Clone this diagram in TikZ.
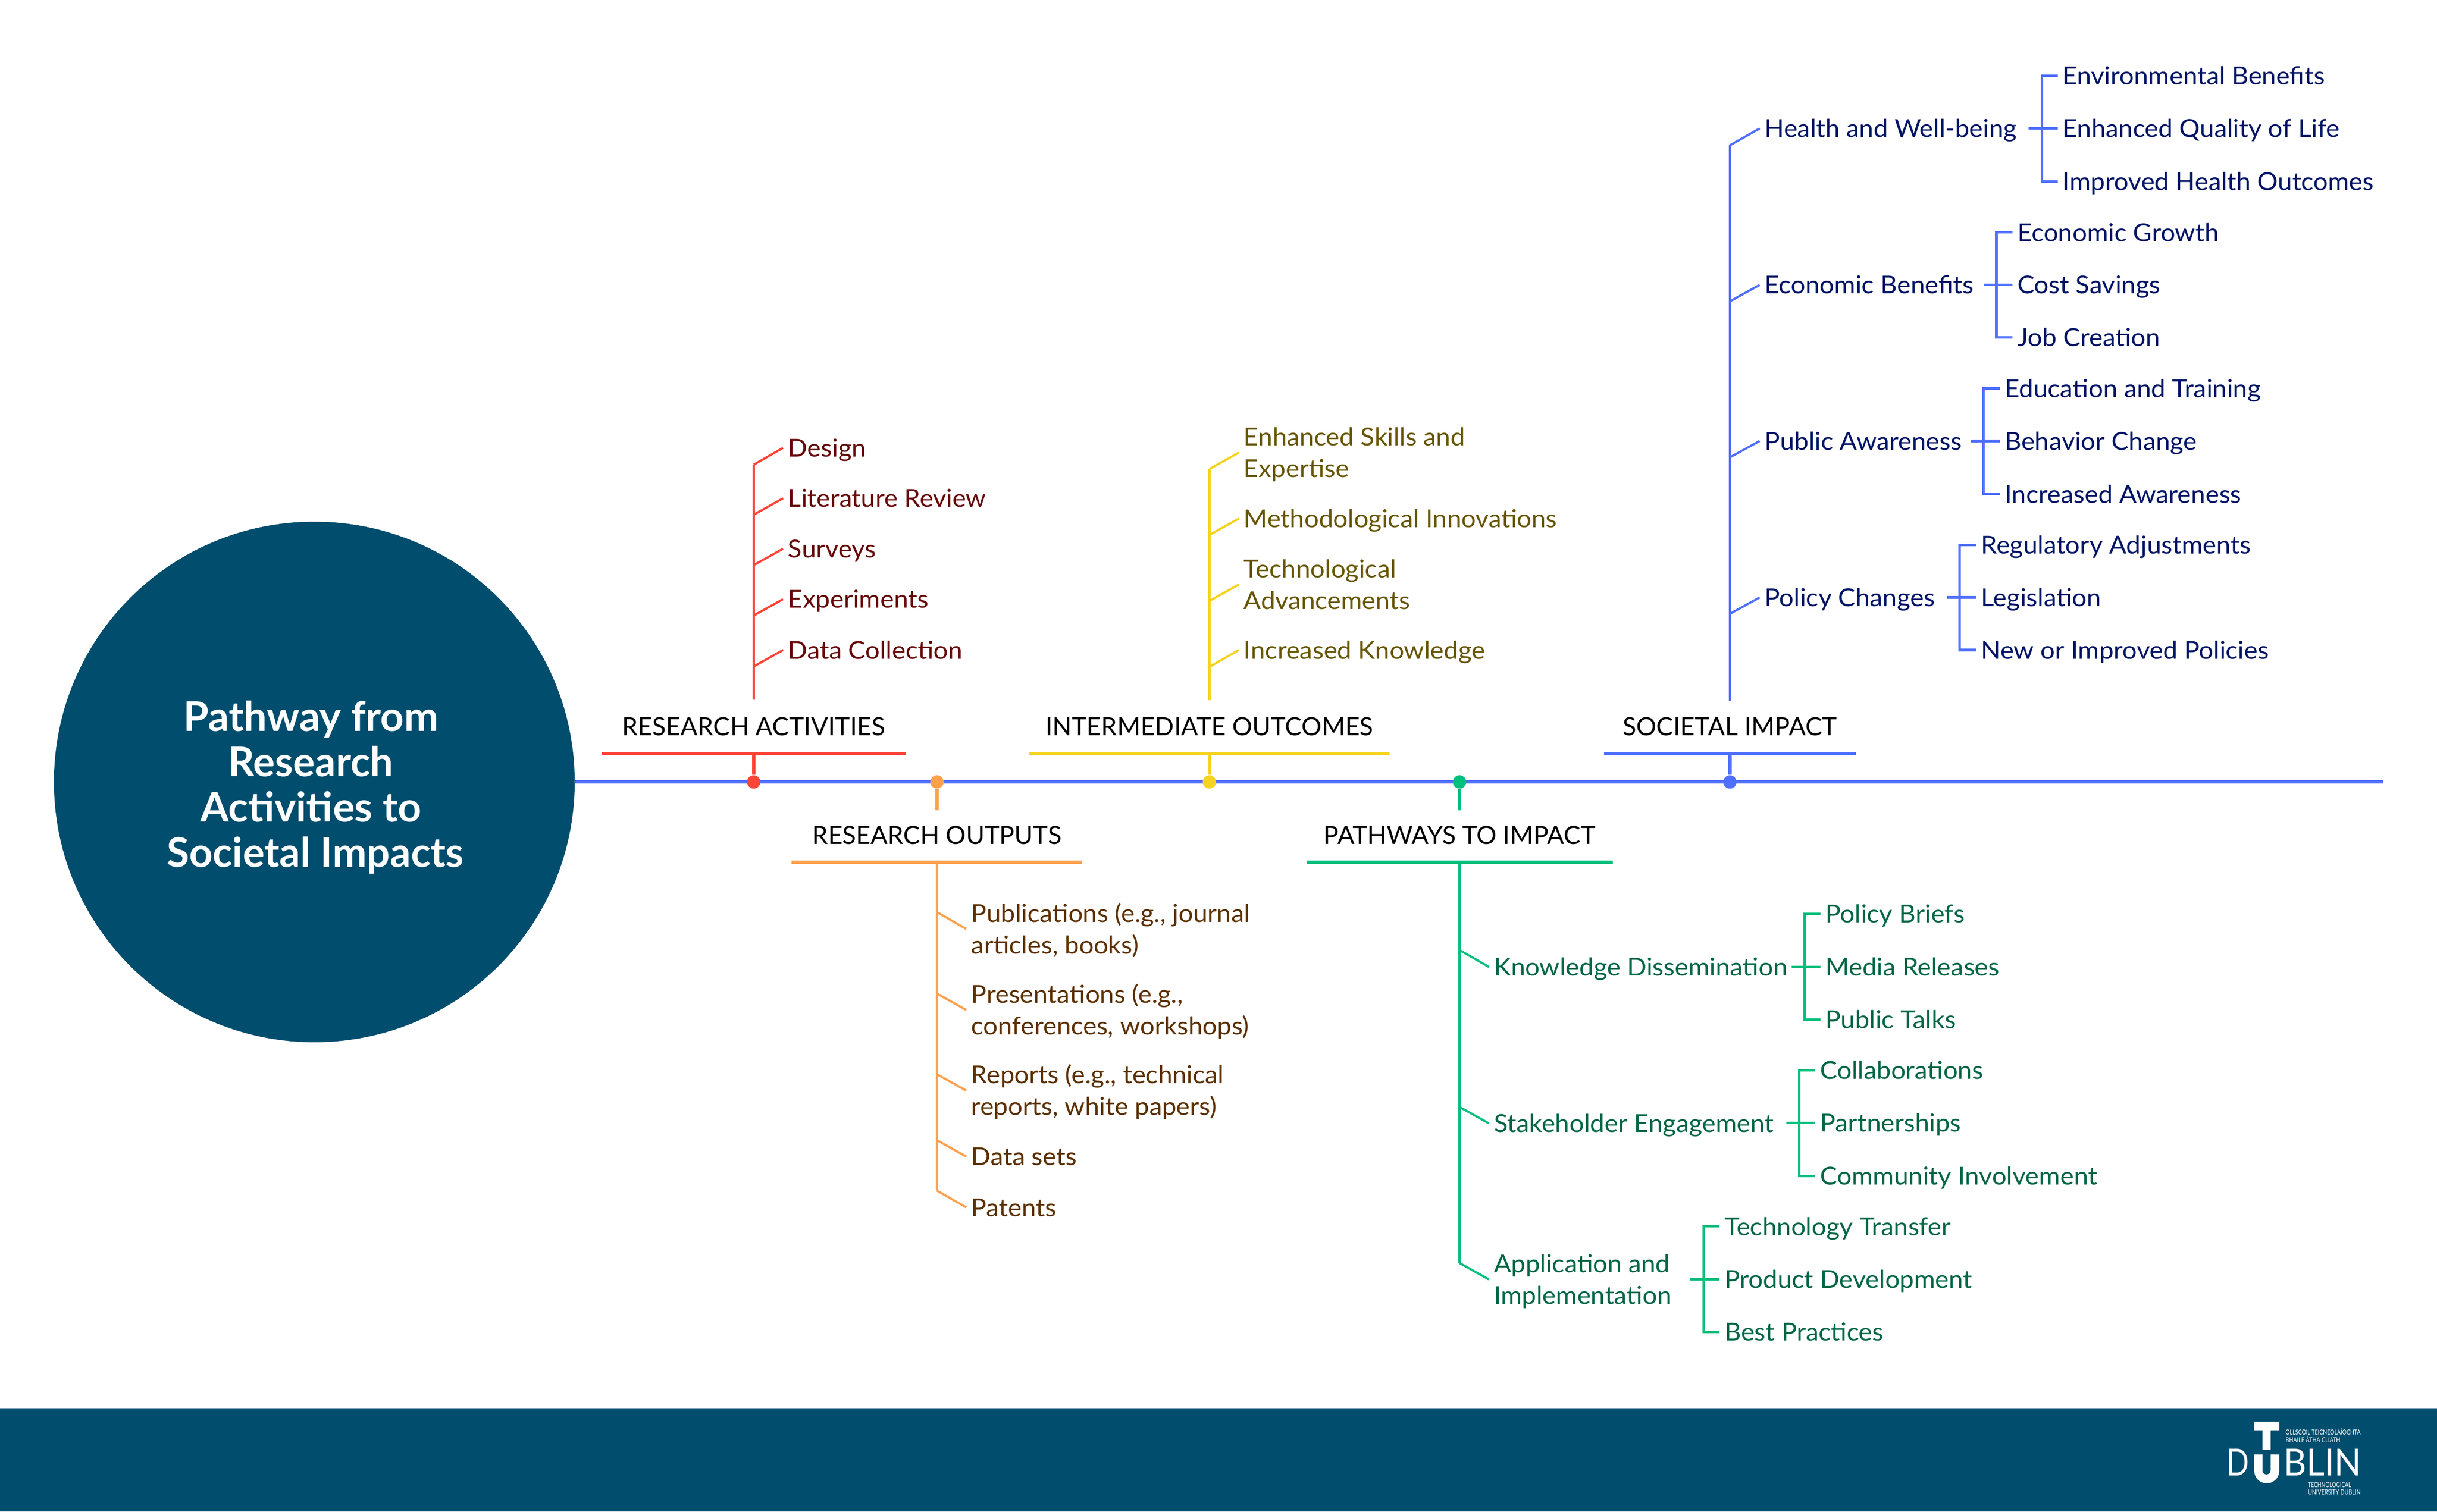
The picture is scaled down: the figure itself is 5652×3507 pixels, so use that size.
\documentclass[tikz,border=0pt]{standalone}
\usepackage{fontspec}
\usepackage{graphicx}
\setmainfont{Lato}
\newfontfamily\leaffont[FakeStretch=1.04]{Lato}
\definecolor{band}{HTML}{004D6D}
\definecolor{spine}{HTML}{4F6FFF}
\definecolor{cR}{HTML}{FF4438}\definecolor{tR}{HTML}{660808}
\definecolor{cO}{HTML}{FFA04D}\definecolor{tO}{HTML}{5C3000}
\definecolor{cY}{HTML}{F5D320}\definecolor{tY}{HTML}{665500}
\definecolor{cG}{HTML}{00BF7D}\definecolor{tG}{HTML}{006644}
\definecolor{cB}{HTML}{4F6FFF}\definecolor{tB}{HTML}{001466}
\newcommand\st{\vrule width 0pt height 15.82pt depth 4.1pt\relax}
\tikzset{
  thinline/.style={line width=0.05cm},
  medline/.style={line width=0.06cm},
  thickline/.style={line width=0.08cm},
  leafnode/.style={anchor=west,inner xsep=0.11cm,inner ysep=0pt,align=left,
     font=\leaffont\fontsize{16.3pt}{19.92pt}\selectfont},
  headnode/.style={anchor=base,inner sep=0pt,text=black,
     font=\fontsize{16.6pt}{20pt}\selectfont},
  dotnode/.style={circle,inner sep=0pt,minimum size=0.31cm},
  logotext/.style={anchor=base west,inner sep=0pt,text=white},
}
% name, colour letter, trunk x, trunk y, end x, end y, text
\newcommand\twig[7]{%
  \coordinate (#1b) at (#3,#4);
  \node[leafnode,text=t#2] (#1) at (#5,#6) {#7};
  \draw[thinline,c#2] (#1b) -- (#1.west);
}
% name, colour letter, x, y, text
\newcommand\subleaf[5]{\node[leafnode,text=t#2] (#1) at (#3,#4) {\st #5};}
\begin{document}
\begin{tikzpicture}[x=0.01cm,y=-0.01cm]
\useasboundingbox (0,0) rectangle (5652,3507);
\fill[band] (0,3267) rectangle (5652,3507);

% centre circle and title
\node[circle,fill=band,inner sep=0pt,minimum size=12.07cm] (hub) at (729,1814) {};
\node[align=center,text=white,inner sep=0pt,
  font=\fontsize{27pt}{29.9pt}\selectfont\bfseries] (title) at (721,1827)
  {Pathway from\\Research\\Activities to\\\hspace*{0.2cm}Societal Impacts};

% spine
\coordinate (spineend) at (5527,1814);
\draw[thickline,spine] (hub.east) -- (spineend);

% spine dots
\node[dotnode,fill=cR] (dR) at (1748,1814) {};
\node[dotnode,fill=cO] (dO) at (2173,1814) {};
\node[dotnode,fill=cY] (dY) at (2805,1814) {};
\node[dotnode,fill=cG] (dG) at (3385,1814) {};
\node[dotnode,fill=cB] (dB) at (4012,1814) {};

% headers
\node[headnode] (hR) at (1748,1706) {RESEARCH ACTIVITIES};
\node[headnode] (hO) at (2173,1958) {RESEARCH OUTPUTS};
\node[headnode] (hY) at (2805,1706) {INTERMEDIATE OUTCOMES};
\node[headnode] (hG) at (3385,1958) {PATHWAYS TO IMPACT};
\node[headnode] (hB) at (4012,1706) {SOCIETAL IMPACT};

% underlines
\coordinate (uRa) at (1396,1748); \coordinate (uRb) at (2100,1748); \coordinate (uRm) at (1748,1748);
\coordinate (uOa) at (1836,2000); \coordinate (uOb) at (2510,2000); \coordinate (uOm) at (2173,2000);
\coordinate (uYa) at (2387,1748); \coordinate (uYb) at (3223,1748); \coordinate (uYm) at (2805,1748);
\coordinate (uGa) at (3030,2000); \coordinate (uGb) at (3740,2000); \coordinate (uGm) at (3385,2000);
\coordinate (uBa) at (3720,1748); \coordinate (uBb) at (4305,1748); \coordinate (uBm) at (4012,1748);
\draw[thickline,cR] (uRa) -- (uRb);
\draw[thickline,cO] (uOa) -- (uOb);
\draw[thickline,cY] (uYa) -- (uYb);
\draw[thickline,cG] (uGa) -- (uGb);
\draw[thickline,cB] (uBa) -- (uBb);

% stems between dot and underline
\draw[thickline,cR] (dR) -- (uRm);
\draw[thickline,cY] (dY) -- (uYm);
\draw[thickline,cB] (dB) -- (uBm);
\coordinate (sO) at (2173,1880); \coordinate (sG) at (3385,1880);
\draw[thickline,cO] (dO) -- (sO);
\draw[thickline,cG] (dG) -- (sG);

% RESEARCH ACTIVITIES
\twig{r1}{R}{1748}{1078}{1816}{1039}{\st Design}
\twig{r2}{R}{1748}{1194}{1816}{1156}{\st Literature Review}
\twig{r3}{R}{1748}{1311}{1816}{1273}{\st Surveys}
\twig{r4}{R}{1748}{1428}{1816}{1390}{\st Experiments}
\twig{r5}{R}{1748}{1546}{1816}{1508}{\st Data Collection}
\coordinate (rt) at (1748,1623);
\draw[medline,cR] (rt) -- (r1b);

% RESEARCH OUTPUTS
\twig{o1}{O}{2173}{2116}{2241}{2155}{\st Publications (e.g., journal\\\st articles, books)}
\twig{o2}{O}{2173}{2305}{2241}{2343}{\st Presentations (e.g.,\\\st conferences, workshops)}
\twig{o3}{O}{2173}{2492}{2241}{2530}{\st Reports (e.g., technical\\\st reports, white papers)}
\twig{o4}{O}{2173}{2645}{2241}{2683}{\st Data sets}
\twig{o5}{O}{2173}{2762}{2241}{2801}{\st Patents}
\draw[medline,cO] (uOm) -- (o5b);

% INTERMEDIATE OUTCOMES
\twig{y1}{Y}{2805}{1088}{2873}{1050}{\st Enhanced Skills and\\\st Expertise}
\twig{y2}{Y}{2805}{1241}{2873}{1203}{\st Methodological Innovations}
\twig{y3}{Y}{2805}{1394}{2873}{1356}{\st Technological\\\st Advancements}
\twig{y4}{Y}{2805}{1547}{2873}{1508}{\st Increased Knowledge}
\coordinate (yt) at (2805,1624);
\draw[medline,cY] (yt) -- (y1b);

% PATHWAYS TO IMPACT
\twig{g1}{G}{3385}{2204}{3453}{2243}{\st Knowledge Dissemination}
\twig{g2}{G}{3385}{2568}{3453}{2606}{\st Stakeholder Engagement}
\twig{g3}{G}{3385}{2930}{3453}{2968}{\st Application and\\\st Implementation}
\draw[medline,cG] (uGm) -- (g3b);

% SOCIETAL IMPACT
\twig{b1}{B}{4012}{337}{4081}{298}{\st Health and Well-being}
\twig{b2}{B}{4012}{699}{4081}{661}{\st Economic Benefits}
\twig{b3}{B}{4012}{1061}{4081}{1023}{\st Public Awareness}
\twig{b4}{B}{4012}{1424}{4081}{1386}{\st Policy Changes}
\coordinate (bt) at (4012,1625);
\draw[medline,cB] (bt) -- (b1b);

% third-level leaves
\subleaf{g1a}{G}{4222}{2120}{Policy Briefs}
\subleaf{g1b}{G}{4222}{2243}{Media Releases}
\subleaf{g1c}{G}{4222}{2365}{Public Talks}
\subleaf{g2a}{G}{4210}{2483}{Collaborations}
\subleaf{g2b}{G}{4210}{2605}{Partnerships}
\subleaf{g2c}{G}{4210}{2728}{Community Involvement}
\subleaf{g3a}{G}{3988}{2845}{Technology Transfer}
\subleaf{g3b}{G}{3988}{2968}{Product Development}
\subleaf{g3c}{G}{3988}{3090}{Best Practices}
\subleaf{b1a}{B}{4772}{176}{Environmental Benefits}
\subleaf{b1b}{B}{4772}{298}{Enhanced Quality of Life}
\subleaf{b1c}{B}{4772}{421}{Improved Health Outcomes}
\subleaf{b2a}{B}{4667}{539}{Economic Growth}
\subleaf{b2b}{B}{4667}{661}{Cost Savings}
\subleaf{b2c}{B}{4667}{783}{Job Creation}
\subleaf{b3a}{B}{4638}{901}{Education and Training}
\subleaf{b3b}{B}{4638}{1023}{Behavior Change}
\subleaf{b3c}{B}{4638}{1146}{Increased Awareness}
\subleaf{b4a}{B}{4583}{1264}{Regulatory Adjustments}
\subleaf{b4b}{B}{4583}{1386}{Legislation}
\subleaf{b4c}{B}{4583}{1508}{New or Improved Policies}

% brackets: entry stub, spine of bracket, arms
\coordinate (g1in) at (4155,2243); \coordinate (g1t) at (4185,2120); \coordinate (g1u) at (4185,2365);
\coordinate (g2in) at (4143,2605); \coordinate (g2t) at (4173,2483); \coordinate (g2u) at (4173,2728);
\coordinate (g3in) at (3920,2968); \coordinate (g3t) at (3951,2845); \coordinate (g3u) at (3951,3090);
\coordinate (b1in) at (4705,298);  \coordinate (b1t) at (4736,176);  \coordinate (b1u) at (4736,421);
\coordinate (b2in) at (4601,661);  \coordinate (b2t) at (4630,539);  \coordinate (b2u) at (4630,783);
\coordinate (b3in) at (4570,1023); \coordinate (b3t) at (4600,901);  \coordinate (b3u) at (4600,1146);
\coordinate (b4in) at (4516,1386); \coordinate (b4t) at (4545,1264); \coordinate (b4u) at (4545,1508);
\draw[medline,cG] (g1a.west) -- (g1t) -- (g1u) -- (g1c.west);
\draw[medline,cG] (g1in) -- (g1b.west);
\draw[medline,cG] (g2a.west) -- (g2t) -- (g2u) -- (g2c.west);
\draw[medline,cG] (g2in) -- (g2b.west);
\draw[medline,cG] (g3a.west) -- (g3t) -- (g3u) -- (g3c.west);
\draw[medline,cG] (g3in) -- (g3b.west);
\draw[medline,cB] (b1a.west) -- (b1t) -- (b1u) -- (b1c.west);
\draw[medline,cB] (b1in) -- (b1b.west);
\draw[medline,cB] (b2a.west) -- (b2t) -- (b2u) -- (b2c.west);
\draw[medline,cB] (b2in) -- (b2b.west);
\draw[medline,cB] (b3a.west) -- (b3t) -- (b3u) -- (b3c.west);
\draw[medline,cB] (b3in) -- (b3b.west);
\draw[medline,cB] (b4a.west) -- (b4t) -- (b4u) -- (b4c.west);
\draw[medline,cB] (b4in) -- (b4b.west);

% logo
\fill[white] (5228,3298) -- (5286,3298) -- (5286,3318) -- (5266,3318) -- (5266,3363) -- (5247,3363) -- (5247,3318) -- (5228,3318) -- cycle;
\fill[white] (5228,3374) -- (5228,3412) arc[start angle=180,end angle=360,radius=0.29cm]
   -- (5286,3374) -- (5266,3374) -- (5266,3411) arc[start angle=360,end angle=180,radius=0.095cm]
   -- (5247,3374) -- cycle;
\node[logotext] (lgD) at (5163,3423) {\resizebox{0.52cm}{0.62cm}{D}};
\node[logotext] (lgB) at (5296,3423) {\resizebox{1.80cm}{0.62cm}{BLIN}};
\node[logotext] (lg1) at (5300,3328) {\resizebox{1.74cm}{0.15cm}{OLLSCOIL TEICNEOLAÍOCHTA}};
\node[logotext] (lg2) at (5300,3346) {\resizebox{1.27cm}{0.15cm}{BHAILE ÁTHA CLIATH}};
\node[logotext] (lg3) at (5352,3451) {\resizebox{1.00cm}{0.12cm}{TECHNOLOGICAL}};
\node[logotext] (lg4) at (5352,3467) {\resizebox{1.22cm}{0.12cm}{UNIVERSITY DUBLIN}};
\end{tikzpicture}
\end{document}
